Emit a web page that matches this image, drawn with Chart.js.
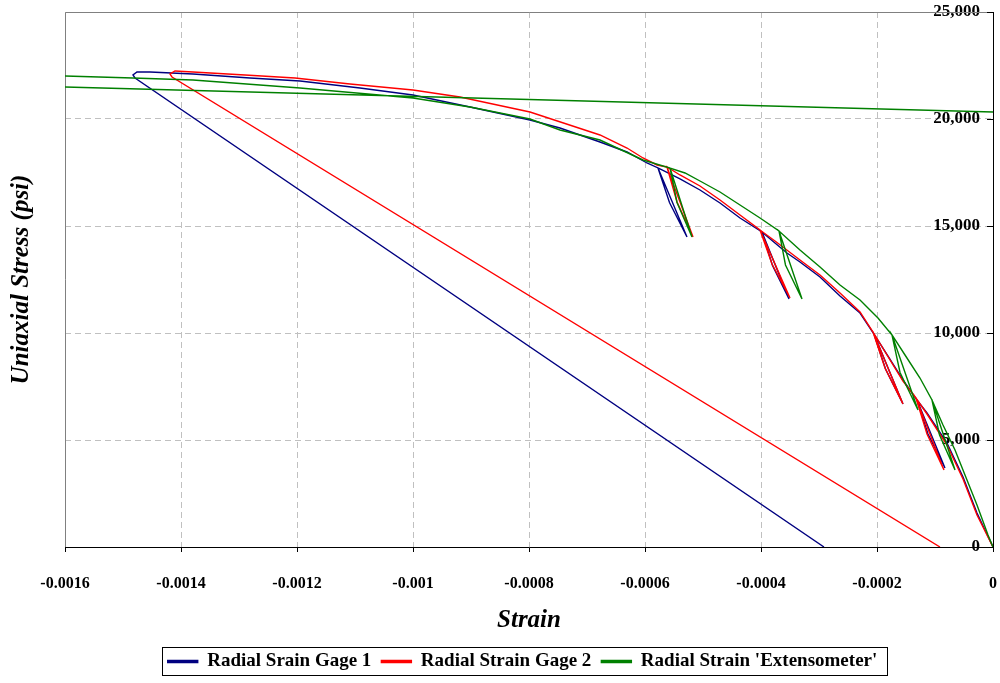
<!DOCTYPE html>
<html>
<head>
<meta charset="utf-8">
<title>Radial strain vs uniaxial stress</title>
<script src="https://cdn.jsdelivr.net/npm/chart.js@4.4.0/dist/chart.umd.min.js"></script>
<style>
  body { margin: 0; background: #fff; }
  .chart-box { width: 1000px; height: 683px; }
</style>
</head>
<body>
<div class="chart-box"><canvas class="stress-chart"></canvas></div>
<script>
const seriesNames = ["Radial Srain Gage 1", "Radial Strain Gage 2", "Radial Strain 'Extensometer'"];
const seriesColors = ["#000080", "#ff0000", "#008000"];

// Radial Srain Gage 1 (strain, stress psi)
const gage1Strain = [0, -0.0000138, -0.0000276, -0.0000397, -0.0000517, -0.0000655, -0.0000793, -0.0000966,
  -0.0001138, -0.0001310, -0.0000828, -0.0001121, -0.0001310, -0.0001552, -0.0001810, -0.0002052,
  -0.0001552, -0.0001853, -0.0002052, -0.0002293, -0.0002638, -0.0002983, -0.0003328, -0.0003552,
  -0.0003759, -0.0003983, -0.0003517, -0.0003802, -0.0003983, -0.0004362, -0.0004707, -0.0005052,
  -0.0005397, -0.0005603, -0.0005776, -0.0005276, -0.0005578, -0.0005776, -0.0005966, -0.0006310,
  -0.0006776, -0.0007466, -0.0007983, -0.0009017, -0.0010000, -0.0010914, -0.0011948, -0.0012810,
  -0.0013793, -0.0014534, -0.0014759, -0.0014828, -0.0014793, -0.0002914];
const gage1Stress = [0, 794, 1589, 2430, 3271, 4066, 4860, 5561,
  6262, 6869, 3692, 5281, 6869, 7804, 8925, 9953,
  6682, 8318, 9953, 10935, 11729, 12617, 13318, 13739,
  14206, 14720, 11589, 13154, 14720, 15374, 16075, 16683,
  17197, 17477, 17711, 14486, 16099, 17711, 17944, 18458,
  18926, 19580, 19954, 20561, 21122, 21449, 21776, 21916,
  22103, 22197, 22197, 22057, 21916, 0];

// Radial Strain Gage 2
const gage2Strain = [0, -0.0000138, -0.0000276, -0.0000517, -0.0000793, -0.0001138, -0.0001328, -0.0000845,
  -0.0001138, -0.0001328, -0.0001552, -0.0002069, -0.0001552, -0.0001862, -0.0002069, -0.0002293,
  -0.0002638, -0.0002983, -0.0003328, -0.0003759, -0.0004017, -0.0003500, -0.0003810, -0.0004017,
  -0.0004362, -0.0004707, -0.0005052, -0.0005397, -0.0005621, -0.0005172, -0.0005448, -0.0005621,
  -0.0005793, -0.0006034, -0.0006310, -0.0006776, -0.0007983, -0.0009190, -0.0010000, -0.0011086,
  -0.0012034, -0.0012897, -0.0013793, -0.0014103, -0.0014190, -0.0014155, -0.0000914];
const gage2Stress = [0, 748, 1495, 3178, 4766, 6215, 6963, 3598,
  5281, 6963, 7757, 10047, 6682, 8365, 10047, 10982,
  11869, 12711, 13412, 14299, 14813, 11636, 13225, 14813,
  15514, 16215, 16869, 17384, 17757, 14486, 16122, 17757,
  17851, 18178, 18645, 19253, 20328, 21029, 21356, 21636,
  21916, 22057, 22197, 22244, 22103, 21963, 0];

// Radial Strain 'Extensometer'
const extStrain = [0, -0.0000086, -0.0000276, -0.0000483, -0.0000655, -0.0000862, -0.0001052, -0.0000655,
  -0.0000922, -0.0001052, -0.0001259, -0.0001517, -0.0001741, -0.0001293, -0.0001603, -0.0001741,
  -0.0001983, -0.0002293, -0.0002638, -0.0002983, -0.0003328, -0.0003690, -0.0003293, -0.0003578,
  -0.0003690, -0.0004017, -0.0004362, -0.0004707, -0.0005052, -0.0005310, -0.0005569, -0.0005190,
  -0.0005448, -0.0005569, -0.0006034, -0.0006776, -0.0007466, -0.0007983, -0.0009017, -0.0010000,
  -0.0011948, -0.0013793, -0.0014828, -0.0016000, -0.0016603, -0.0016638, 0];
const extStress = [0, 561, 1963, 3365, 4533, 5701, 6869, 3598,
  5234, 6869, 7897, 8972, 9907, 6402, 8154, 9907,
  10701, 11542, 12243, 13084, 13879, 14767, 11589, 13178,
  14767, 15374, 15981, 16589, 17103, 17477, 17711, 14486,
  16099, 17711, 18085, 19019, 19486, 20000, 20561, 20981,
  21449, 21823, 21916, 22010, 22010, 21543, 20328];

const xTickLabels = ["-0.0016", "-0.0014", "-0.0012", "-0.001", "-0.0008", "-0.0006", "-0.0004", "-0.0002", "0"];
const yTickLabels = ["0", "5,000", "10,000", "15,000", "20,000", "25,000"];

const serif = "'Liberation Serif', 'Times New Roman', serif";

const toPoints = (xs, ys) => xs.map((x, i) => ({ x: x, y: ys[i] }));
const seriesPoints = [
  toPoints(gage1Strain, gage1Stress),
  toPoints(gage2Strain, gage2Stress),
  toPoints(extStrain, extStress),
];

// gray frame on top/left of the plot and inside tick marks on the stress axis
const plotFrame = {
  id: "plotFrame",
  beforeDatasetsDraw(chart) {
    const { ctx, chartArea: a, scales } = chart;
    ctx.save();
    ctx.lineWidth = 1;
    ctx.strokeStyle = "#808080";
    ctx.beginPath();
    ctx.moveTo(a.left + 0.5, a.bottom);
    ctx.lineTo(a.left + 0.5, a.top + 0.5);
    ctx.lineTo(a.right, a.top + 0.5);
    ctx.stroke();
    ctx.strokeStyle = "#000";
    scales.y.ticks.forEach(t => {
      const py = Math.round(scales.y.getPixelForValue(t.value)) + 0.5;
      ctx.beginPath();
      ctx.moveTo(a.right - 6, py);
      ctx.lineTo(a.right, py);
      ctx.stroke();
    });
    ctx.restore();
  }
};

// move the legend under the plot and put a box round it
const legendFrame = {
  id: "legendFrame",
  afterLayout(chart) {
    const lg = chart.legend;
    lg.left += 26;
    lg.right += 26;
    lg.top += 6;
    lg.bottom += 6;
  },
  afterDraw(chart) {
    const boxes = chart.legend.legendHitBoxes;
    if (!boxes || !boxes.length) return;
    const left = Math.min(...boxes.map(b => b.left)) - 6;
    const right = Math.max(...boxes.map(b => b.left + b.width)) + 9;
    const top = Math.min(...boxes.map(b => b.top)) - 5;
    const bottom = Math.max(...boxes.map(b => b.top + b.height)) + 4;
    const ctx = chart.ctx;
    ctx.save();
    ctx.strokeStyle = "#000";
    ctx.lineWidth = 1;
    ctx.strokeRect(Math.round(left) + 0.5, Math.round(top) + 0.5, Math.round(right - left), Math.round(bottom - top));
    ctx.restore();
  }
};

const chartCanvas = document.querySelector(".stress-chart");

new Chart(chartCanvas, {
  type: "scatter",
  data: {
    datasets: seriesNames.map((name, i) => ({
      label: name,
      data: seriesPoints[i],
      showLine: true,
      borderColor: seriesColors[i],
      backgroundColor: seriesColors[i],
      borderWidth: 1.4,
      pointRadius: 0,
      tension: 0,
      order: 3 - i,
    })),
  },
  options: {
    responsive: true,
    maintainAspectRatio: false,
    animation: false,
    layout: { padding: { top: 12, right: 7, left: 0, bottom: 8 } },
    plugins: {
      legend: {
        position: "bottom",
        labels: {
          boxWidth: 30,
          boxHeight: 2,
          padding: 10,
          color: "#000",
          font: { family: serif, size: 19, weight: "bold" },
          sort: (a, b) => a.datasetIndex - b.datasetIndex,
        },
      },
      tooltip: { enabled: false },
    },
    scales: {
      x: {
        type: "linear",
        position: "bottom",
        min: -0.0016,
        max: 0,
        ticks: {
          stepSize: 0.0002,
          autoSkip: false,
          maxRotation: 0,
          padding: 22,
          color: "#000",
          font: { family: serif, size: 16, weight: "bold" },
          callback: (v, i) => xTickLabels[i],
        },
        grid: { color: "#c0c0c0", tickColor: "#000", tickLength: 5 },
        border: { display: true, color: "#000", width: 1, dash: [6, 4] },
        title: {
          display: true,
          text: "Strain",
          color: "#000",
          font: { family: serif, size: 25, weight: "bold", style: "italic" },
          padding: { top: 10, bottom: 0 },
        },
        afterFit: s => {
          s.height = 89;
          s.paddingLeft = 0;
          s.paddingRight = 0;
        },
      },
      y: {
        type: "linear",
        position: "right",
        min: 0,
        max: 25000,
        ticks: {
          stepSize: 5000,
          mirror: true,
          padding: -13,
          color: "#000",
          font: { family: serif, size: 17, weight: "bold" },
          callback: (v, i) => yTickLabels[i],
        },
        grid: { color: "#c0c0c0", drawTicks: false },
        border: { display: true, color: "#000", width: 1, dash: [6, 4] },
        afterFit: s => {
          s.width = 0;
          s.paddingTop = 0;
          s.paddingBottom = 0;
        },
      },
      yTitle: {
        type: "linear",
        position: "left",
        min: 0,
        max: 25000,
        ticks: { display: false },
        grid: { display: false, drawTicks: false },
        border: { display: false },
        title: {
          display: true,
          text: "Uniaxial Stress (psi)",
          color: "#000",
          font: { family: serif, size: 25, weight: "bold", style: "italic" },
          padding: { top: 7, bottom: 0 },
        },
        afterFit: s => { s.width = 65; },
      },
    },
  },
  plugins: [plotFrame, legendFrame],
});
</script>
</body>
</html>
